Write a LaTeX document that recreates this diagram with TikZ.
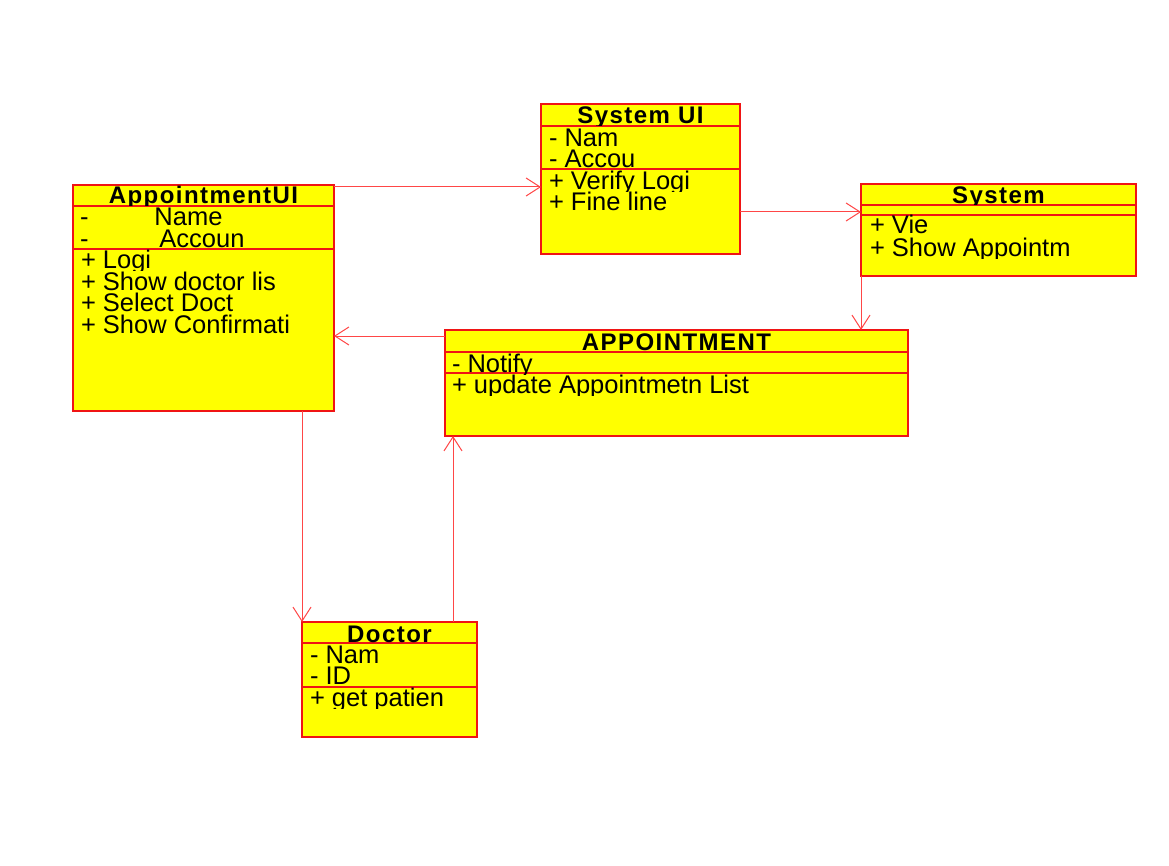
\documentclass[tikz,border=0pt]{standalone}
\usepackage{fontspec}
\setmainfont{Liberation Sans}
\newfontfamily\titlefont{Liberation Sans}[LetterSpace=6]
\usetikzlibrary{arrows.meta}
\definecolor{umlred}{RGB}{240,20,20}
\definecolor{umlyellow}{RGB}{255,255,0}
\definecolor{linkred}{RGB}{255,70,70}
\tikzset{
  clsbox/.style={draw=umlred, fill=umlyellow, line width=1.2pt, rectangle, inner sep=0pt, outer sep=0pt, anchor=north west},
  divider/.style={draw=umlred, line width=1.2pt},
  txt/.style={anchor=base west, inner sep=0pt, outer sep=0pt, text height=17pt, text depth=2pt, font=\fontsize{25.5}{25.5}\selectfont},
  ttl/.style={anchor=base, inner sep=0pt, outer sep=0pt, text height=17pt, text depth=1pt, font=\titlefont\bfseries\fontsize{24}{24}\selectfont},
  link/.style={draw=linkred, line width=1pt, -{Straight Barb[length=14pt,width=18pt,line width=1pt]}},
}
% name, x, baseline, right clip, text
\newcommand\umltext[5]{%
  \begin{scope}\clip (#2-3,#3-26) rectangle (#4,#3+2);
  \node[txt] (#1) at (#2,#3) {#5};\end{scope}}
% name, centre x, baseline, left, right, top, bottom (clip), text
\newcommand\umltitle[8]{%
  \begin{scope}\clip (#4,#6) rectangle (#5,#7);
  \node[ttl] (#1) at (#2,#3) {#8};\end{scope}}
\begin{document}
\begin{tikzpicture}[x=1pt,y=-1pt]
\fill[white] (0,0) rectangle (1169,866);
\useasboundingbox (0,0) rectangle (1169,866);

% ---------- AppointmentUI ----------
\node[clsbox, minimum width=261pt, minimum height=226pt] (aui) at (73,185) {};
\draw[divider] (73,206) -- (334,206);
\draw[divider] (73,249) -- (334,249);
\umltitle{auiT}{203.5}{204}{74}{333}{186}{205.5}{AppointmentUI}
\umltext{auiA1}{80}{226}{333}{-\hspace{66pt}Name}
\umltext{auiA2}{80}{247.5}{333}{-\hspace{71pt}Accoun}
\umltext{auiM1}{81}{269}{333}{+ Logi}
\umltext{auiM2}{81}{290.5}{333}{+ Show doctor lis}
\umltext{auiM3}{81}{312}{333}{+ Select Doct}
\umltext{auiM4}{81}{333.5}{333}{+ Show Confirmati}

% ---------- System UI ----------
\node[clsbox, minimum width=199pt, minimum height=150pt] (sui) at (541,104) {};
\draw[divider] (541,126) -- (740,126);
\draw[divider] (541,169) -- (740,169);
\umltitle{suiT}{640.5}{124}{542}{739}{105}{125.5}{System UI}
\umltext{suiA1}{549}{147}{739}{- Nam}
\umltext{suiA2}{549}{168}{739}{- Accou}
\umltext{suiM1}{549}{189.5}{739}{+ Verify Logi}
\umltext{suiM2}{549}{211}{739}{+ Fine line}

% ---------- System ----------
\node[clsbox, minimum width=275pt, minimum height=92pt] (sys) at (861,184) {};
\draw[divider] (861,205) -- (1136,205);
\draw[divider] (861,215) -- (1136,215);
\umltitle{sysT}{998.5}{204}{862}{1135}{185}{204.5}{System}
\umltext{sysM1}{870}{234}{1135}{+ Vie}
\umltext{sysM2}{870}{257}{1135}{+ Show Appointm}

% ---------- APPOINTMENT ----------
\node[clsbox, minimum width=463pt, minimum height=106pt] (app) at (445,330) {};
\draw[divider] (445,352) -- (908,352);
\draw[divider] (445,373) -- (908,373);
\umltitle{appT}{676.5}{350}{446}{907}{331}{351.5}{APPOINTMENT}
\umltext{appA1}{452}{372}{907}{- Notify}
\umltext{appM1}{452}{393}{907}{+ update Appointmetn List}

% ---------- Doctor ----------
\node[clsbox, minimum width=175pt, minimum height=115pt] (doc) at (302,622) {};
\draw[divider] (302,643) -- (477,643);
\draw[divider] (302,687) -- (477,687);
\umltitle{docT}{389.5}{642}{303}{476}{623}{642.5}{Doctor}
\umltext{docA1}{310}{663}{476}{- Nam}
\umltext{docA2}{310}{684.5}{476}{- ID}
\umltext{docM1}{310}{706}{476}{+ get patien}

% ---------- connectors ----------
\coordinate (c1) at ([yshift=-2pt]aui.north east);
\draw[link] (c1) -- (c1 -| sui.west);
\coordinate (c2) at ([yshift=-108pt]sui.north east);
\draw[link] (c2) -- (c2 -| sys.west);
\draw[link] (sys.south west) -- (sys.south west |- app.north);
\coordinate (c4) at ([yshift=-6pt]app.north west);
\draw[link] (c4) -- (c4 -| aui.east);
\coordinate (c5) at (doc.north west |- aui.south);
\draw[link] (c5) -- (doc.north west);
\coordinate (c6) at ([xshift=151pt]doc.north west);
\draw[link] (c6) -- (c6 |- app.south);
\end{tikzpicture}
\end{document}
